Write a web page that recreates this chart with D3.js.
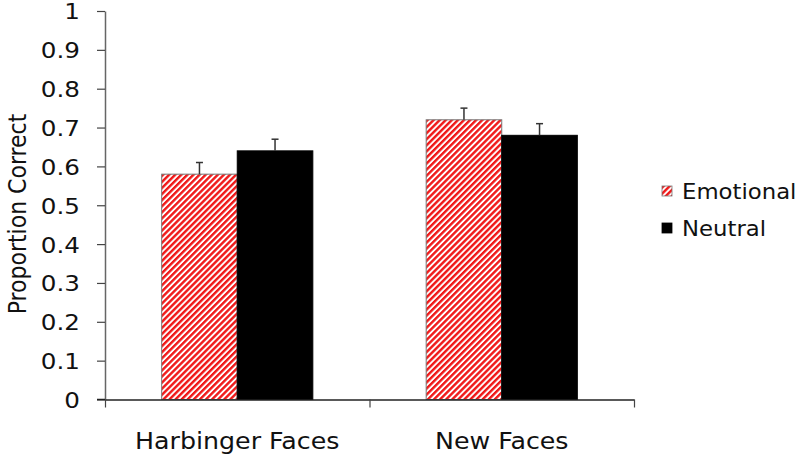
<!DOCTYPE html>
<html>
<head>
<meta charset="utf-8">
<script src="https://cdn.jsdelivr.net/npm/d3@7"></script>
<style>
  body { margin: 0; background: #fff; }
  text { font-family: "DejaVu Sans", Verdana, sans-serif; fill: #111; }
</style>
</head>
<body>
<div id="chart"></div>
<script>
var categories = ["Harbinger Faces", "New Faces"];
var seriesNames = ["Emotional", "Neutral"];
var emotionalValues = [0.58, 0.72];
var neutralValues = [0.64, 0.68];
var emotionalErrors = [0.03, 0.03];
var neutralErrors = [0.03, 0.03];
var yTicks = [0, 0.1, 0.2, 0.3, 0.4, 0.5, 0.6, 0.7, 0.8, 0.9, 1];

const width = 800, height = 460;
// the original picture is a little stretched horizontally
const stretch = 1.12;

const svg = d3.select("#chart").append("svg")
  .attr("width", width).attr("height", height);

// hatch pattern for the emotional bars
const defs = svg.append("defs");
const pat = defs.append("pattern")
  .attr("id", "hatch")
  .attr("patternUnits", "userSpaceOnUse")
  .attr("width", 4.3).attr("height", 4.3)
  .attr("patternTransform", "rotate(45)");
pat.append("rect").attr("width", 4.3).attr("height", 4.3).attr("fill", "#fff");
pat.append("rect").attr("width", 2.4).attr("height", 4.3).attr("fill", "#f01818");

const x = d3.scaleBand().domain(categories).range([105, 634]);
const xInner = d3.scaleBand().domain(seriesNames).range([0, x.bandwidth()]).paddingInner(0).paddingOuter(0.75);
const y = d3.scaleLinear().domain([0, 1]).range([399.5, 11]);

const rows = categories.map((c, i) => ({
  cat: c,
  vals: [
    { s: "Emotional", v: emotionalValues[i], e: emotionalErrors[i] },
    { s: "Neutral", v: neutralValues[i], e: neutralErrors[i] }
  ]
}));

// y axis
const yAxis = svg.append("g")
  .attr("transform", "translate(105,0)")
  .call(d3.axisLeft(y).tickValues(yTicks).tickFormat(d3.format("")).tickSize(8).tickSizeOuter(0));
yAxis.select(".domain").attr("stroke", "#666").attr("stroke-width", 1.5);
yAxis.selectAll(".tick line").attr("stroke", "#444").attr("stroke-width", 1.2);
yAxis.selectAll(".tick text")
  .attr("x", 0).attr("dy", "0.36em")
  .attr("transform", `translate(-25,0) scale(${stretch},1)`)
  .style("font-size", "22px").attr("fill", "#111");

// bars
const groups = svg.append("g").selectAll("g").data(rows).join("g")
  .attr("transform", d => `translate(${x(d.cat)},0)`);

groups.selectAll("rect").data(d => d.vals).join("rect")
  .attr("x", d => xInner(d.s))
  .attr("y", d => y(d.v))
  .attr("width", xInner.bandwidth())
  .attr("height", d => y(0) - y(d.v))
  .attr("fill", d => d.s === "Emotional" ? "url(#hatch)" : "#000")
  .attr("stroke", d => d.s === "Emotional" ? "#777" : "#000")
  .attr("stroke-width", 1);

// error bars (upper only)
groups.selectAll("g.err").data(d => d.vals).join("g").attr("class", "err")
  .each(function (d) {
    const g = d3.select(this);
    const cx = xInner(d.s) + xInner.bandwidth() / 2;
    g.append("line")
      .attr("x1", cx).attr("x2", cx)
      .attr("y1", y(d.v)).attr("y2", y(d.v + d.e))
      .attr("stroke", "#333").attr("stroke-width", 1.5);
    g.append("line")
      .attr("x1", cx - 3.5).attr("x2", cx + 3.5)
      .attr("y1", y(d.v + d.e)).attr("y2", y(d.v + d.e))
      .attr("stroke", "#333").attr("stroke-width", 1.5);
  });

// x axis with ticks at band edges
const edges = d3.scaleLinear().domain([0, categories.length]).range(x.range());
const xAxis = svg.append("g")
  .attr("transform", `translate(0,${y(0)})`)
  .call(d3.axisBottom(edges).tickValues(d3.range(categories.length + 1)).tickFormat("").tickSize(8).tickSizeOuter(0));
xAxis.select(".domain").attr("stroke", "#222").attr("stroke-width", 1.5);
xAxis.selectAll(".tick line").attr("stroke", "#444").attr("stroke-width", 1.2);
// extend baseline to the left tick
svg.append("line")
  .attr("x1", 97).attr("x2", 105).attr("y1", y(0)).attr("y2", y(0))
  .attr("stroke", "#222").attr("stroke-width", 1.5);

svg.append("g").selectAll("text").data(categories).join("text")
  .attr("transform", d => `translate(${x(d) + x.bandwidth() / 2},449) scale(1.1,1)`)
  .attr("text-anchor", "middle")
  .style("font-size", "23px")
  .text(d => d);

// y label
svg.append("text")
  .attr("transform", "translate(26,214) rotate(-90) scale(1,1.1)")
  .attr("text-anchor", "middle")
  .style("font-size", "22px")
  .text("Proportion Correct");

// legend
const legend = svg.append("g").selectAll("g").data(seriesNames).join("g")
  .attr("transform", (d, i) => `translate(662,${186 + i * 37})`);
legend.append("rect")
  .attr("width", 10).attr("height", 10)
  .attr("fill", d => d === "Emotional" ? "url(#hatch)" : "#000")
  .attr("stroke", d => d === "Emotional" ? "#777" : "#000")
  .attr("stroke-width", 0.8);
legend.append("text")
  .attr("transform", "translate(20,5) scale(1.06,1)")
  .attr("dy", "0.36em")
  .style("font-size", "21.5px")
  .text(d => d);
</script>
</body>
</html>
